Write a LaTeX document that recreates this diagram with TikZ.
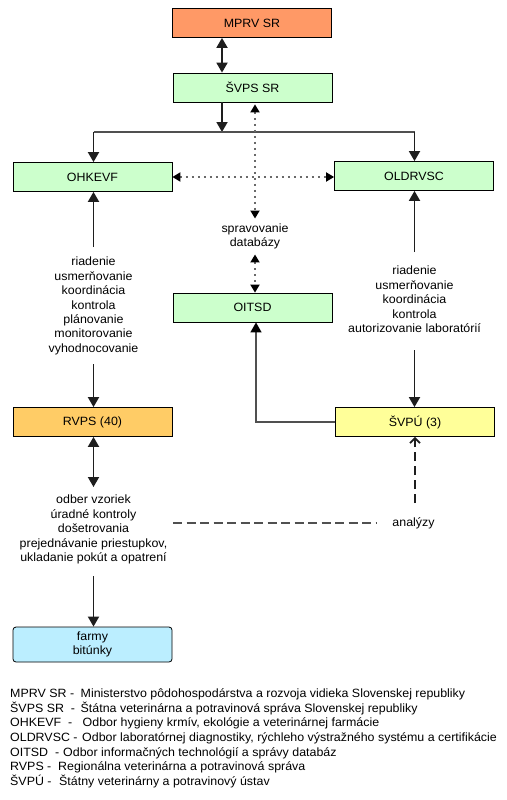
\documentclass[tikz,border=0pt]{standalone}
\usepackage{fontspec}
\setmainfont{Liberation Sans}[FakeStretch=1.035]
\usetikzlibrary{arrows.meta,calc}
\definecolor{cOrange}{RGB}{255,153,102}
\definecolor{cGreen}{RGB}{204,255,204}
\definecolor{cAmber}{RGB}{255,204,102}
\definecolor{cYellow}{RGB}{255,255,153}
\definecolor{cCyan}{RGB}{187,238,255}
\definecolor{cLine}{RGB}{30,30,30}
\definecolor{cGrayLine}{RGB}{80,80,80}
\definecolor{cDot}{RGB}{105,105,105}
\begin{document}
\begin{tikzpicture}[x=1pt,y=-1pt,
  every node/.style={font=\fontsize{12}{14.4}\selectfont},
  box/.style={draw=black,line width=0.8pt,minimum width=159pt,minimum height=29pt,inner sep=0pt,align=center},
  lbl/.style={align=center,inner sep=0pt},
  leg/.style={anchor=base west,inner sep=0pt},
  arr/.style={line width=1.8pt,draw=cLine,-{Triangle[width=11pt,length=10pt]}},
  darr/.style={line width=1.8pt,draw=cLine,{Triangle[width=11pt,length=10pt]}-{Triangle[width=11pt,length=10pt]}},
  hline/.style={line width=1.8pt,draw=cGrayLine},
  thinarr/.style={line width=1.3pt,draw=cGrayLine,-{Triangle[width=11pt,length=10pt,color=black]}},
  dotarr/.style={line width=1.8pt,draw=cDot,dash pattern=on 1.8pt off 4.2pt,
     {Triangle[width=9pt,length=8pt,color=black]}-{Triangle[width=9pt,length=8pt,color=black]}},
  dashline/.style={line width=1.8pt,draw=cGrayLine,dash pattern=on 9pt off 4.5pt},
  dasharr/.style={line width=1.7pt,draw=cLine,dash pattern=on 9pt off 5pt,-{Straight Barb[length=5pt,width=10pt]}},
]
\useasboundingbox[fill=white] (0,0) rectangle (506,800);

% boxes
\node[box,fill=cOrange] (mprv) at (252,23) {MPRV SR};
\node[box,fill=cGreen] (svps) at (252.5,87.5) {ŠVPS SR};
\node[box,fill=cGreen] (ohkevf) at (92.5,177) {OHKEVF};
\node[box,fill=cGreen] (oldrvsc) at (414,176) {OLDRVSC};
\node[box,fill=cGreen] (oitsd) at (252.5,307.5) {OITSD};
\node[box,fill=cAmber] (rvps) at (92.5,422) {RVPS (40)};
\node[box,fill=cYellow] (svpu) at (415,422) {ŠVPÚ (3)};
\node[box,fill=cCyan,rounded corners=3pt,minimum height=35pt] (farmy) at (92.5,644.5) {farmy\\bitúnky};

% text labels
\node[lbl,inner ysep=5pt] (sd) at (255,236.5) {spravovanie\\databázy};
\node[lbl] (txtl) at (93.5,306) {riadenie\\usmerňovanie\\koordinácia\\kontrola\\plánovanie\\monitorovanie\\vyhodnocovanie};
\node[lbl] (txtr) at (414.5,299.5) {riadenie\\usmerňovanie\\koordinácia\\kontrola\\autorizovanie laboratórií};
\node[lbl] (txtb) at (93.5,529.5) {odber vzoriek\\úradné kontroly\\došetrovania\\prejednávanie priestupkov,\\ukladanie pokút a opatrení};
\node[lbl,inner xsep=15pt] (an) at (413.5,523) {analýzy};

% coordinates
\coordinate (hub) at (222,132);
\coordinate (hl) at (93.5,132);
\coordinate (hr) at (414.5,132);
\coordinate (lu) at (93.5,247);
\coordinate (ld) at (93.5,364);
\coordinate (ru) at (414.5,252);
\coordinate (rd) at (414.5,350);
\coordinate (bu) at (93.5,487);
\coordinate (bd) at (93.5,576);
\coordinate (dl) at (173,523);
\coordinate (va) at (415,503);

% connectors
\draw[darr] ([xshift=-30pt]mprv.south) -- ([xshift=-30.5pt]svps.north);
\draw[arr] ([xshift=-30.5pt]svps.south) -- (hub);
\draw[hline] (hl) -- (hr);
\draw[arr] (hl) -- (hl |- ohkevf.north);
\draw[arr] (hr) -- (hr |- oldrvsc.north);
\draw[dotarr] (ohkevf.east) -- (ohkevf.east -| oldrvsc.west);
\draw[dotarr] ([xshift=2.5pt,yshift=-2pt]svps.south) -- (sd.north);
\draw[dotarr] (sd.south) -- (sd.south |- oitsd.north);
\draw[arr] (lu) -- (lu |- ohkevf.south);
\draw[arr] (ld) -- (ld |- rvps.north);
\draw[arr] (ru) -- (ru |- oldrvsc.south);
\draw[arr] (rd) -- (rd |- svpu.north);
\draw[thinarr] (svpu.west) -| ([xshift=3.5pt]oitsd.south);
\draw[darr] (bu |- rvps.south) -- (bu);
\draw[arr] (bd) -- (bd |- farmy.north);
\draw[dashline] (dl) -- (an.west);
\draw[dasharr] (va) -- (va |- svpu.south);

% legend
\node[leg] (l1a) at (10,697.3) {MPRV SR -};
\node[leg] (l1b) at (80.5,697.3) {Ministerstvo pôdohospodárstva a rozvoja vidieka Slovenskej republiky};
\node[leg] (l2a) at (10,712) {ŠVPS SR~~-};
\node[leg] (l2b) at (80.5,712) {Štátna veterinárna a potravinová správa Slovenskej republiky};
\node[leg] (l3a) at (10,726.6) {OHKEVF~~-};
\node[leg] (l3b) at (82.5,726.6) {Odbor hygieny krmív, ekológie a veterinárnej farmácie};
\node[leg] (l4a) at (10,741.3) {OLDRVSC -};
\node[leg] (l4b) at (82,741.3) {Odbor laboratórnej diagnostiky, rýchleho výstražného systému a certifikácie};
\node[leg] (l5a) at (10,756) {OITSD~~-};
\node[leg] (l5b) at (63,756) {Odbor informačných technológií a správy databáz};
\node[leg] (l6a) at (10,770.6) {RVPS -};
\node[leg] (l6b) at (58,770.6) {Regionálna veterinárna a potravinová správa};
\node[leg] (l7a) at (10,785.3) {ŠVPÚ -};
\node[leg] (l7b) at (59,785.3) {Štátny veterinárny a potravinový ústav};
\end{tikzpicture}
\end{document}
